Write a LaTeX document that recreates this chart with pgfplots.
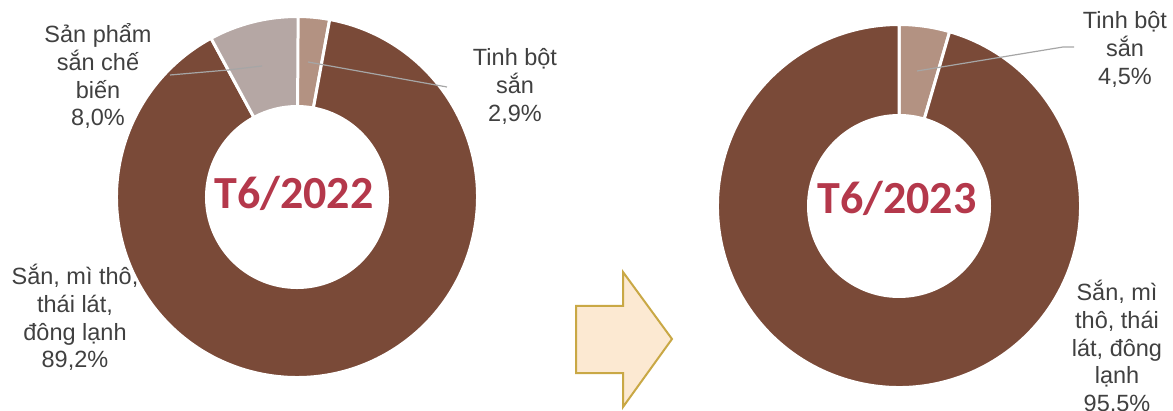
\documentclass[border=0pt]{standalone}
\usepackage{fontspec}
\setmainfont{Liberation Sans}
\newfontfamily\titlefont{Carlito}
\usepackage{pgfplots}
\pgfplotsset{compat=1.18}

\definecolor{san}{HTML}{7A4A38}
\definecolor{tinh}{HTML}{B39282}
\definecolor{sp}{HTML}{B5A7A4}
\definecolor{ttl}{HTML}{B4384B}
\definecolor{txt}{HTML}{404040}
\definecolor{lead}{HTML}{A6A6A6}
\definecolor{arrowfill}{HTML}{FCE9D2}
\definecolor{arrowline}{HTML}{C9A845}

% donut: cx, cy (axis units = pt), outer r, inner r, list value/colour
\newcommand\donut[5]{%
  \gdef\cum{0}%
  \foreach \v/\c in {#5}{%
    \pgfmathsetmacro\aa{90-3.6*\cum}%
    \pgfmathsetmacro\ab{90-3.6*(\cum+\v)}%
    \fill[\c, draw=white, line width=3pt, shift={(axis cs:#1,#2)}]
      (\aa:#3pt) arc[start angle=\aa, end angle=\ab, radius=#3pt]
      -- (\ab:#4pt) arc[start angle=\ab, end angle=\aa, radius=#4pt] -- cycle;
    \pgfmathsetmacro\tmp{\cum+\v}\xdef\cum{\tmp}%
  }%
}
% label lines, baseline of first line given in picture pixels from top
\newcommand\lbl[3]{%
  \foreach \t [count=\i from 0] in {#3}{%
    \node[anchor=base, inner sep=0pt, text=txt,
          font=\fontsize{23.5}{28}\selectfont]
      at (axis cs:#1,{410-#2-27.6*\i}) {\t};
  }%
}

\begin{document}
\begin{tikzpicture}
\begin{axis}[
  width=1173pt, height=410pt, scale only axis,
  xmin=0, xmax=1173, ymin=0, ymax=410,
  hide axis, clip=false]
\coordinate (bl) at (axis cs:0,0);
\coordinate (tr) at (axis cs:1173,410);
\pgfplotsextra{
  % T6/2022
  \donut{297}{213}{180.5}{90.5}{2.9/tinh,89.2/san,8.0/sp}
  % T6/2023
  \donut{899}{204}{181.5}{90.5}{4.5/tinh,95.5/san}

  \node[text=ttl, font=\titlefont\bfseries\fontsize{46}{50}\selectfont, anchor=base]
    at (axis cs:294,201) {T6/2022};
  \node[text=ttl, font=\titlefont\bfseries\fontsize{46}{50}\selectfont, anchor=base]
    at (axis cs:897,196) {T6/2023};

  % leader lines
  \draw[lead, line width=1.2pt] (axis cs:170,335) -- (axis cs:228,340) -- (axis cs:262,344);
  \draw[lead, line width=1.2pt] (axis cs:308,348) -- (axis cs:447,323);
  \draw[lead, line width=1.2pt] (axis cs:917,339) -- (axis cs:1063,363) -- (axis cs:1074,363);

  \lbl{98}{43}{{Sản phẩm},{sắn chế},{biến},{8,0\%}}
  \lbl{515}{66}{{Tinh bột},{sắn},{2,9\%}}
  \lbl{75}{285}{{Sắn, mì thô,},{thái lát,},{đông lạnh},{89,2\%}}
  \lbl{1125}{29}{{Tinh bột},{sắn},{4,5\%}}
  \lbl{1117}{301}{{Sắn, mì},{thô, thái},{lát, đông},{lạnh},{95,5\%}}

  % arrow
  \draw[arrowline, fill=arrowfill, line width=2pt, line join=miter]
    (axis cs:576,104) -- (axis cs:576,37) -- (axis cs:623,37) -- (axis cs:623,3)
    -- (axis cs:672,71) -- (axis cs:623,138) -- (axis cs:623,104) -- cycle;
}
\end{axis}
\pgfresetboundingbox
\path[use as bounding box] (bl) rectangle (tr);
\end{tikzpicture}
\end{document}
